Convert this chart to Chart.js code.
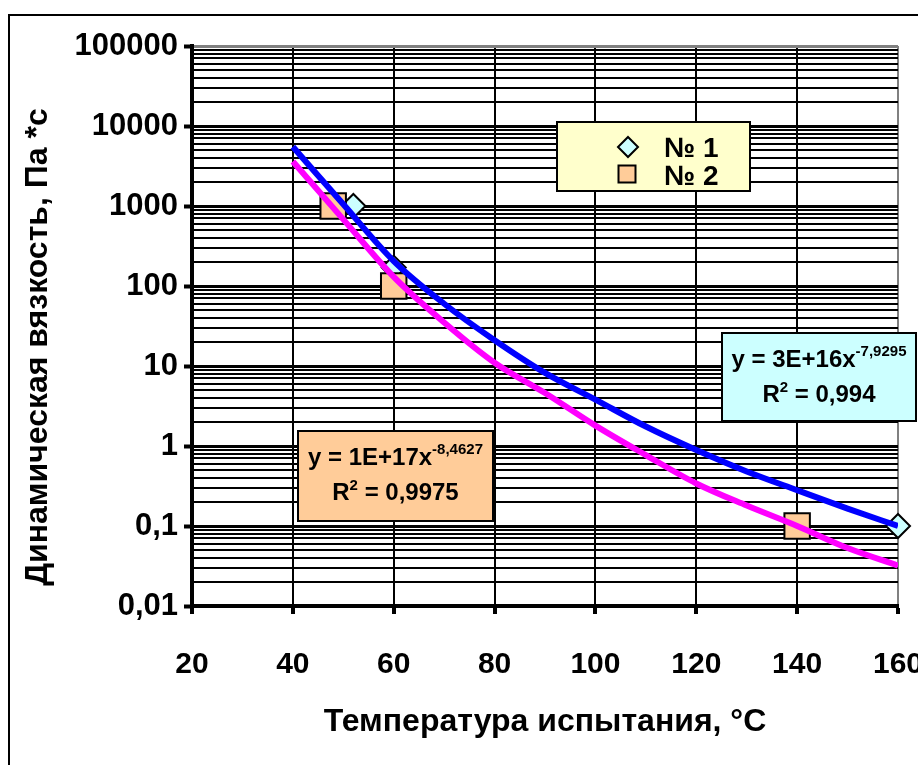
<!DOCTYPE html>
<html><head><meta charset="utf-8">
<script src="https://cdn.jsdelivr.net/npm/chart.js@4/dist/chart.umd.min.js"></script>
<style>html,body{margin:0;padding:0;background:#fff;}canvas{display:block}</style>
</head><body>
<canvas id="c" width="918" height="765"></canvas>
<script>
// ---- data ----
const trendTemps = [40, 50, 60, 70, 80, 90, 100, 110, 120, 130, 140, 150, 160];
const trend1Values = [5500, 1050, 205, 60, 21, 8.2, 3.8, 1.75, 0.89, 0.48, 0.28, 0.165, 0.10];
const trend2Values = [3600, 680, 130, 35, 11, 4.6, 1.8, 0.77, 0.34, 0.18, 0.10, 0.053, 0.032];
const sample1Temps = [52, 60, 160];
const sample1Visc = [1000, 170, 0.1];
const sample2Temps = [48, 60, 140];
const sample2Visc = [1000, 100, 0.1];
const seriesNames = ['№ 1', '№ 2'];
const xTickValues = [20, 40, 60, 80, 100, 120, 140, 160];
const yDecades = [0.01, 0.1, 1, 10, 100, 1000, 10000, 100000];
const yTickLabels = ['0,01', '0,1', '1', '10', '100', '1000', '10000', '100000'];
const eq1 = {main: 'y = 3E+16x', exp: '-7,9295', r2: '0,994'};
const eq2 = {main: 'y = 1E+17x', exp: '-8,4627', r2: '0,9975'};
const xTitle = 'Температура испытания, °C';
const yTitle = 'Динамическая вязкость, Па *с';

const FONT = "'Liberation Sans', Arial, sans-serif";
const C1 = '#CCFFFF', C2 = '#FFCC99';

const toPts = (xs, ys) => xs.map((x, i) => ({x: x, y: ys[i]}));
const isDecade = v => Math.abs(Math.log10(v) - Math.round(Math.log10(v))) < 1e-9;

function drawDiamond(ctx, x, y, r, fill) {
  ctx.beginPath();
  ctx.moveTo(x, y - r); ctx.lineTo(x + r, y); ctx.lineTo(x, y + r); ctx.lineTo(x - r, y); ctx.closePath();
  ctx.fillStyle = fill; ctx.fill(); ctx.lineWidth = 2; ctx.strokeStyle = '#000'; ctx.stroke();
}
function drawSquare(ctx, x, y, half, fill) {
  ctx.beginPath(); ctx.rect(x - half, y - half, 2 * half, 2 * half);
  ctx.fillStyle = fill; ctx.fill(); ctx.lineWidth = 2; ctx.strokeStyle = '#000'; ctx.stroke();
}
function drawEquation(ctx, eq, box, fill) {
  ctx.save();
  ctx.fillStyle = fill; ctx.strokeStyle = '#000'; ctx.lineWidth = 2;
  ctx.fillRect(box.x, box.y, box.w, box.h); ctx.strokeRect(box.x, box.y, box.w, box.h);
  ctx.fillStyle = '#000'; ctx.textBaseline = 'alphabetic'; ctx.textAlign = 'left';
  const cx = box.x + box.w / 2;
  const big = 'bold 24px ' + FONT, small = 'bold 15px ' + FONT;
  ctx.font = big; const w1 = ctx.measureText(eq.main).width;
  ctx.font = small; const w2 = ctx.measureText(eq.exp).width;
  let sx = cx - (w1 + w2) / 2;
  const b1 = box.y + 34, b2 = box.y + 69;
  ctx.font = big; ctx.fillText(eq.main, sx, b1);
  ctx.font = small; ctx.fillText(eq.exp, sx + w1, b1 - 11);
  const rest = ' = ' + eq.r2;
  ctx.font = big; const wr = ctx.measureText('R').width, wrest = ctx.measureText(rest).width;
  ctx.font = small; const ws = ctx.measureText('2').width;
  sx = cx - (wr + ws + wrest) / 2;
  ctx.font = big; ctx.fillText('R', sx, b2);
  ctx.font = small; ctx.fillText('2', sx + wr, b2 - 10);
  ctx.font = big; ctx.fillText(rest, sx + wr + ws, b2);
  ctx.restore();
}

const decorPlugin = {
  id: 'decor',
  afterDraw(chart) {
    const ctx = chart.ctx;
    ctx.save();
    // outer frame
    ctx.strokeStyle = '#000'; ctx.lineWidth = 2;
    ctx.beginPath(); ctx.moveTo(9, 770); ctx.lineTo(9, 15); ctx.lineTo(930, 15); ctx.stroke();
    // y axis title
    ctx.save();
    ctx.translate(38, 347); ctx.rotate(-Math.PI / 2);
    ctx.fillStyle = '#000'; ctx.font = 'bold 32px ' + FONT; ctx.textAlign = 'center'; ctx.textBaseline = 'middle';
    ctx.fillText(yTitle, 0, 0);
    ctx.restore();
    // legend
    const L = {x: 557, y: 122, w: 193, h: 69};
    ctx.fillStyle = '#FFFFCC'; ctx.fillRect(L.x, L.y, L.w, L.h);
    ctx.lineWidth = 2; ctx.strokeStyle = '#000'; ctx.strokeRect(L.x, L.y, L.w, L.h);
    drawDiamond(ctx, 628, 147, 10, C1);
    drawSquare(ctx, 627, 174, 8.5, C2);
    ctx.fillStyle = '#000'; ctx.font = 'bold 28px ' + FONT; ctx.textBaseline = 'alphabetic'; ctx.textAlign = 'left';
    ctx.fillText(seriesNames[0], 664, 157);
    ctx.fillText(seriesNames[1], 664, 185);
    ctx.restore();
    drawEquation(ctx, eq1, {x: 722, y: 333, w: 194, h: 88}, C1);
    drawEquation(ctx, eq2, {x: 298, y: 431, w: 195, h: 90}, C2);
  }
};

new Chart(document.getElementById('c'), {
  type: 'line',
  data: {
    datasets: [
      {label: 'trend1', data: toPts(trendTemps, trend1Values), borderColor: '#0000FF', borderWidth: 6,
       pointRadius: 0, cubicInterpolationMode: 'monotone', fill: false},
      {label: 'trend2', data: toPts(trendTemps, trend2Values), borderColor: '#FF00FF', borderWidth: 6,
       pointRadius: 0, cubicInterpolationMode: 'monotone', fill: false},
      {label: seriesNames[1], data: toPts(sample2Temps, sample2Visc), showLine: false, pointStyle: 'rect',
       pointRadius: 18, pointBackgroundColor: C2, pointBorderColor: '#000', pointBorderWidth: 2, clip: false},
      {label: seriesNames[0], data: toPts(sample1Temps, sample1Visc), showLine: false, pointStyle: 'rectRot',
       pointRadius: 12, pointBackgroundColor: C1, pointBorderColor: '#000', pointBorderWidth: 2, clip: false}
    ]
  },
  options: {
    responsive: false, animation: false, devicePixelRatio: 1,
    layout: {padding: {top: 46, right: 18, bottom: 0, left: 0}},
    plugins: {legend: {display: false}, tooltip: {enabled: false}, title: {display: false}},
    scales: {
      x: {
        type: 'linear', min: 20, max: 160,
        afterBuildTicks: s => { s.ticks = xTickValues.map(v => ({value: v})); },
        afterFit: s => { s.height = 159; s.paddingLeft = 0; s.paddingRight = 0; },
        ticks: {color: '#000', font: {family: FONT, size: 30, weight: 'bold'}, padding: 33, maxRotation: 0,
                autoSkip: false, callback: v => String(v)},
        grid: {color: c => (c.tick && c.tick.value === 160) ? '#808080' : '#000', lineWidth: 2,
               tickColor: '#000', tickWidth: 4, tickLength: 8},
        border: {display: true, color: '#000', width: 4},
        title: {display: true, text: xTitle, color: '#000', font: {family: FONT, size: 32, weight: 'bold'},
                padding: {top: 0, bottom: 24}}
      },
      y: {
        type: 'logarithmic', min: 0.01, max: 100000,
        afterBuildTicks: s => {
          const t = [];
          yDecades.forEach(d => {
            if (d === 100000) { t.push({value: d}); return; }
            for (let k = 1; k <= 9; k++) t.push({value: +(d * k).toPrecision(3)});
          });
          s.ticks = t;
        },
        afterFit: s => { s.width = 192; s.paddingTop = 0; s.paddingBottom = 0; },
        ticks: {color: '#000', font: {family: FONT, size: 31, weight: 'bold'}, padding: 6, autoSkip: false,
                callback: v => { const i = yDecades.indexOf(v); return i >= 0 ? yTickLabels[i] : ''; }},
        grid: {color: c => (c.tick && c.tick.value === 100000) ? '#808080' : '#000',
               lineWidth: c => (c.tick && isDecade(c.tick.value)) ? 3 : 2,
               tickColor: c => (c.tick && isDecade(c.tick.value)) ? '#000' : 'rgba(0,0,0,0)',
               tickWidth: 4, tickLength: 8},
        border: {display: true, color: '#000', width: 4},
        title: {display: false}
      }
    }
  },
  plugins: [decorPlugin]
});
</script>
</body></html>
